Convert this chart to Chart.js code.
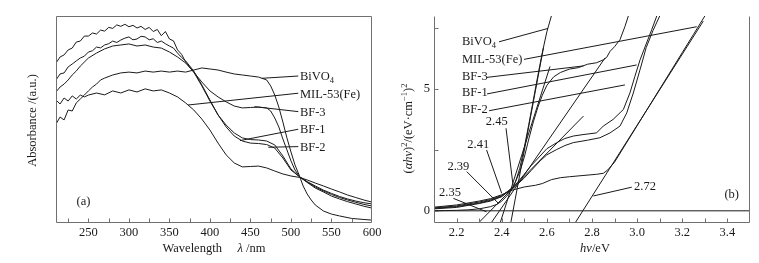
<!DOCTYPE html>
<html>
<head>
<meta charset="utf-8">
<script src="https://cdn.jsdelivr.net/npm/chart.js@4.4.1/dist/chart.umd.min.js"></script>
<style>
  html, body { margin: 0; padding: 0; background: #fff; }
  #wrap { position: relative; width: 759px; height: 263px; overflow: hidden; }
  canvas { position: absolute; top: 0; }
  #absChart { left: 0; }
  #taucChart { left: 380px; }
</style>
</head>
<body>
<div id="wrap">
  <canvas id="absChart" width="400" height="263"></canvas>
  <canvas id="taucChart" width="379" height="263"></canvas>
</div>
<script>
// ---- (a) UV-vis absorbance, wavelength in nm ----
const wlBiVO4 = [210,215,220,225,230,235,240,245,250,255,260,265,270,280,290,300,310,320,330,340,350,360,370,380,390,400,410,420,430,440,450,460,470,475,480,485,490,495,500,505,510,515,520,525,530,540,550,560,575,590,600];
const absBiVO4 = [0.478,0.512,0.498,0.546,0.541,0.580,0.599,0.618,0.638,0.657,0.671,0.691,0.700,0.715,0.725,0.729,0.725,0.734,0.729,0.734,0.729,0.734,0.729,0.739,0.749,0.744,0.739,0.729,0.720,0.715,0.710,0.705,0.691,0.662,0.618,0.560,0.488,0.411,0.343,0.280,0.232,0.179,0.140,0.111,0.087,0.058,0.043,0.034,0.022,0.017,0.014];

const wlMIL = [210,215,220,225,230,235,240,245,250,260,270,280,290,300,310,320,330,340,350,360,370,380,390,400,410,420,430,440,450,460,470,480,490,500,511,520,530,540,550,560,570,580,590,600];
const absMIL = [0.594,0.575,0.604,0.589,0.614,0.599,0.618,0.609,0.618,0.628,0.619,0.638,0.628,0.643,0.633,0.648,0.638,0.643,0.628,0.609,0.580,0.546,0.502,0.449,0.386,0.329,0.290,0.271,0.273,0.275,0.266,0.251,0.237,0.227,0.220,0.208,0.193,0.179,0.164,0.150,0.135,0.123,0.111,0.101];

const wlBF = [210,215,220,225,230,235,240,245,250,255,260,265,270,275,280,285,290,295,300,305,310,315,320,325,330,335,340,345,350,355,360,365,370,380,390,400,410,420,430,440,450,460,470,480,490,500,511,520,530,540,550,560,570,580,590,600];
const absBF1 = [0.773,0.802,0.812,0.836,0.845,0.874,0.879,0.903,0.903,0.918,0.913,0.932,0.927,0.945,0.940,0.957,0.950,0.960,0.948,0.955,0.942,0.950,0.935,0.945,0.925,0.935,0.905,0.925,0.889,0.880,0.836,0.815,0.778,0.729,0.662,0.589,0.522,0.473,0.435,0.411,0.403,0.401,0.396,0.377,0.324,0.261,0.222,0.198,0.174,0.155,0.138,0.123,0.111,0.100,0.090,0.082];
const absBF2 = [0.691,0.720,0.725,0.754,0.768,0.783,0.797,0.806,0.826,0.832,0.850,0.846,0.860,0.866,0.879,0.872,0.884,0.893,0.899,0.885,0.889,0.902,0.899,0.885,0.890,0.872,0.879,0.866,0.855,0.845,0.821,0.800,0.783,0.734,0.667,0.594,0.522,0.464,0.420,0.396,0.386,0.384,0.379,0.362,0.314,0.256,0.222,0.196,0.169,0.150,0.130,0.116,0.103,0.092,0.081,0.072];

const wlBF3 = [210,215,220,225,230,235,240,250,260,270,280,290,300,310,320,330,340,350,360,370,380,390,400,410,420,430,440,450,460,470,475,480,485,490,495,500,505,511,520,530,540,550,560,570,580,590,600];
const absBF3 = [0.633,0.657,0.671,0.691,0.715,0.734,0.758,0.797,0.821,0.841,0.855,0.860,0.865,0.855,0.860,0.850,0.845,0.826,0.802,0.773,0.729,0.681,0.638,0.609,0.585,0.565,0.556,0.558,0.560,0.556,0.541,0.507,0.464,0.406,0.353,0.300,0.256,0.222,0.200,0.179,0.159,0.143,0.128,0.116,0.106,0.098,0.092];

const wlTicks = [225,250,275,300,325,350,375,400,425,450,475,500,525,550,575];
const wlLabels = [250,300,350,400,450,500,550,600];

// label leader lines in (a): [wavelength, absorbance]
const leadA_BiVO4 = [[464,0.699],[509,0.710]];
const leadA_MIL = [[373,0.570],[509,0.627]];
const leadA_BF3 = [[455,0.562],[509,0.538]];
const leadA_BF1 = [[437,0.398],[509,0.453]];
const leadA_BF2 = [[472,0.366],[509,0.369]];

// ---- (b) Tauc plot, photon energy in eV ----
const evBiVO4 = [2.10,2.15,2.20,2.25,2.30,2.35,2.38,2.40,2.42,2.44,2.46,2.48,2.50,2.52,2.54,2.56,2.58,2.60,2.62];
const tauBiVO4 = [0.00,0.01,0.02,0.04,0.08,0.17,0.27,0.40,0.58,0.80,1.15,1.75,2.60,3.55,4.55,5.55,6.50,7.35,8.00];

const evMIL = [2.10,2.20,2.30,2.35,2.40,2.45,2.50,2.55,2.58,2.62,2.66,2.70,2.76,2.82,2.85,2.87,2.90,2.95,3.00,3.05,3.10,3.15,3.20,3.25,3.28,3.30];
const tauMIL = [0.15,0.24,0.40,0.50,0.66,0.86,0.98,1.05,1.12,1.28,1.36,1.40,1.45,1.50,1.54,1.68,2.00,2.75,3.50,4.25,5.00,5.75,6.50,7.25,7.70,8.00];

const evBF3 = [2.10,2.20,2.30,2.35,2.40,2.45,2.48,2.50,2.52,2.54,2.56,2.58,2.60,2.63,2.66,2.70,2.74,2.78,2.82,2.85,2.865,2.88,2.90,2.924,2.946,2.961];
const tauBF3 = [0.08,0.14,0.30,0.40,0.58,0.98,1.60,2.20,2.95,3.65,4.25,4.75,5.15,5.50,5.68,5.82,5.88,6.02,6.08,6.20,6.30,6.55,6.74,7.03,7.57,8.00];

const evBF1 = [2.10,2.20,2.30,2.35,2.40,2.45,2.50,2.53,2.57,2.60,2.644,2.68,2.717,2.76,2.82,2.85,2.893,2.939,2.968,2.99,3.013,3.04,3.065,3.087];
const tauBF1 = [0.12,0.20,0.36,0.46,0.63,0.95,1.50,1.85,2.25,2.55,2.80,2.97,3.07,3.13,3.20,3.48,3.75,4.16,4.84,5.52,6.20,6.85,7.45,8.00];

const evBF2 = [2.10,2.20,2.30,2.35,2.40,2.45,2.50,2.53,2.57,2.60,2.644,2.68,2.717,2.78,2.835,2.88,2.924,2.954,2.983,3.013,3.04,3.07,3.10];
const tauBF2 = [0.10,0.17,0.32,0.43,0.60,0.92,1.35,1.65,2.05,2.30,2.52,2.68,2.80,2.90,3.00,3.20,3.48,4.02,4.84,5.80,6.70,7.40,8.00];

// tangent lines and their band-gap intercepts
const tanBiVO4 = [[2.44,-0.5],[2.585,6.7]];
const tanBF3 = [[2.393,-0.5],[2.614,5.93]];
const tanBF1 = [[2.353,-0.5],[2.858,6.28]];
const tanBF2 = [[2.297,-0.5],[2.762,3.89]];
const tanMIL = [[2.725,-0.5],[3.293,7.79]];
const zeroLine = [[2.1,0],[3.5,0]];

const leadB_BiVO4 = [[2.388,6.94],[2.605,7.49]];
const leadB_MIL = [[2.499,6.22],[3.264,7.56]];
const leadB_BF3 = [[2.335,5.48],[2.762,5.95]];
const leadB_BF1 = [[2.335,4.80],[2.998,5.99]];
const leadB_BF2 = [[2.344,4.11],[2.946,5.17]];
const lead245 = [[2.419,3.39],[2.451,0.99]];
const lead241 = [[2.333,2.50],[2.400,0.72]];
const lead239 = [[2.245,1.61],[2.385,0.31]];
const lead235 = [[2.186,0.51],[2.333,-0.04]];
const lead272 = [[2.976,0.97],[2.806,0.61]];

const evTicks = [2.2,2.3,2.4,2.5,2.6,2.7,2.8,2.9,3.0,3.1,3.2,3.3,3.4];
const evLabels = [2.2,2.4,2.6,2.8,3.0,3.2,3.4];
const tauTicks = [0,2.5,5,7.5];
const tauLabels = [0,5];

const FONT = '"Liberation Serif", "Times New Roman", serif';
const SIZE = 12.5;
const INK = '#1a1a1a';
const AXIS = '#707070';

Chart.defaults.font.family = FONT;
Chart.defaults.font.size = SIZE;
Chart.defaults.color = INK;

const xy = (xs, ys) => xs.map((x, i) => ({ x: x, y: ys[i] }));
const seg = pts => pts.map(p => ({ x: p[0], y: p[1] }));
const line = (data, w) => ({ data: data, borderColor: INK, borderWidth: w || 1, pointRadius: 0, fill: false, tension: 0 });

// draws a run of text pieces: '' plain, 'i' italic, 'sup', 'sub'
function drawRuns(ctx, runs, x, y, align) {
  const fontOf = k => (k === 'i' ? 'italic ' : '') + (k === 'sup' || k === 'sub' ? SIZE * 0.68 : SIZE) + 'px ' + FONT;
  let w = 0;
  runs.forEach(r => { ctx.font = fontOf(r[1]); w += ctx.measureText(r[0]).width; });
  let cx = align === 'center' ? x - w / 2 : align === 'right' ? x - w : x;
  ctx.textBaseline = 'middle';
  ctx.textAlign = 'left';
  runs.forEach(r => {
    ctx.font = fontOf(r[1]);
    const dy = r[1] === 'sup' ? -SIZE * 0.35 : r[1] === 'sub' ? SIZE * 0.3 : 0;
    ctx.fillText(r[0], cx, y + dy);
    cx += ctx.measureText(r[0]).width;
  });
}

function frame(cfg) {
  return {
    id: 'frame',
    afterDraw(chart) {
      const { ctx, chartArea: a, scales } = chart;
      const L = Math.round(a.left) + 0.5, R = Math.round(a.right) - 0.5;
      const T = Math.round(a.top) + 0.5, B = Math.round(a.bottom) - 0.5;
      ctx.save();
      ctx.strokeStyle = AXIS;
      ctx.lineWidth = 1;
      ctx.beginPath();
      if (cfg.top) { ctx.moveTo(L, T); ctx.lineTo(R, T); }
      ctx.moveTo(L, T); ctx.lineTo(L, B); ctx.lineTo(R, B); ctx.lineTo(R, T);
      cfg.xTicks.forEach(v => {
        const p = Math.round(scales.x.getPixelForValue(v)) + 0.5;
        ctx.moveTo(p, B); ctx.lineTo(p, B - 4);
      });
      cfg.yTicks.forEach(v => {
        const p = Math.round(scales.y.getPixelForValue(v)) + 0.5;
        ctx.moveTo(L, p); ctx.lineTo(L + 4, p);
      });
      ctx.stroke();
      ctx.restore();
    }
  };
}

function notes(items, titles) {
  return {
    id: 'notes',
    afterDraw(chart) {
      const { ctx, chartArea: a, scales } = chart;
      ctx.save();
      ctx.fillStyle = INK;
      items.forEach(n => drawRuns(ctx, n.runs, scales.x.getPixelForValue(n.x), scales.y.getPixelForValue(n.y), n.align));
      titles.forEach(t => {
        if (t.axis === 'x') {
          drawRuns(ctx, t.runs, (a.left + a.right) / 2 + (t.dx || 0), a.bottom + t.dy, 'center');
        } else {
          ctx.save();
          ctx.translate(a.left + t.dx, (a.top + a.bottom) / 2 + (t.dy || 0));
          ctx.rotate(-Math.PI / 2);
          drawRuns(ctx, t.runs, 0, 0, 'center');
          ctx.restore();
        }
      });
      ctx.restore();
    }
  };
}

function baseOptions(o) {
  return {
    responsive: false,
    animation: false,
    layout: { padding: { left: 0, right: o.right, top: 16, bottom: 0 } },
    plugins: { legend: { display: false }, tooltip: { enabled: false } },
    scales: {
      x: {
        type: 'linear', min: o.xmin, max: o.xmax,
        afterFit: s => { s.height = 40; },
        afterBuildTicks: s => { s.ticks = o.xLabels.map(v => ({ value: v })); },
        grid: { display: false, drawTicks: false, tickLength: 0 }, border: { display: false },
        ticks: { padding: 2, autoSkip: false, maxRotation: 0, callback: o.xFmt }
      },
      y: {
        type: 'linear', min: o.ymin, max: o.ymax,
        afterFit: s => { s.width = o.yWidth; },
        afterBuildTicks: s => { s.ticks = o.yLabels.map(v => ({ value: v })); },
        grid: { display: false, drawTicks: false, tickLength: 0 }, border: { display: false },
        ticks: { display: o.yLabels.length > 0, padding: 4, autoSkip: false }
      }
    }
  };
}

new Chart(document.getElementById('absChart'), {
  type: 'line',
  data: {
    datasets: [
      line(xy(wlBiVO4, absBiVO4)),
      line(xy(wlMIL, absMIL)),
      line(xy(wlBF, absBF1)),
      line(xy(wlBF, absBF2)),
      line(xy(wlBF3, absBF3)),
      line(seg(leadA_BiVO4)), line(seg(leadA_MIL)), line(seg(leadA_BF3)),
      line(seg(leadA_BF1)), line(seg(leadA_BF2))
    ]
  },
  options: baseOptions({ right: 28, xmin: 210, xmax: 600, ymin: 0, ymax: 1, yWidth: 56,
    xLabels: wlLabels, yLabels: [], xFmt: v => String(v) }),
  plugins: [
    frame({ top: true, xTicks: wlTicks, yTicks: [] }),
    notes([
      { runs: [['BiVO', ''], ['4', 'sub']], x: 511, y: 0.707, align: 'left' },
      { runs: [['MIL-53(Fe)', '']], x: 511, y: 0.618, align: 'left' },
      { runs: [['BF-3', '']], x: 511, y: 0.533, align: 'left' },
      { runs: [['BF-1', '']], x: 511, y: 0.449, align: 'left' },
      { runs: [['BF-2', '']], x: 511, y: 0.366, align: 'left' },
      { runs: [['(a)', '']], x: 244, y: 0.103, align: 'center' }
    ], [
      { axis: 'x', runs: [['Wavelength     ', ''], ['λ', 'i'], [' /nm', '']], dy: 26 },
      { axis: 'y', runs: [['Absorbance /(a.u.)', '']], dx: -23, dy: 1 }
    ])
  ]
});

new Chart(document.getElementById('taucChart'), {
  type: 'line',
  data: {
    datasets: [
      line(seg(zeroLine)),
      line(xy(evBiVO4, tauBiVO4)),
      line(xy(evMIL, tauMIL)),
      line(xy(evBF3, tauBF3)),
      line(xy(evBF1, tauBF1)),
      line(xy(evBF2, tauBF2)),
      line(seg(tanBiVO4)), line(seg(tanBF3)), line(seg(tanBF1)), line(seg(tanBF2)), line(seg(tanMIL)),
      line(seg(leadB_BiVO4)), line(seg(leadB_MIL)), line(seg(leadB_BF3)), line(seg(leadB_BF1)), line(seg(leadB_BF2)),
      line(seg(lead245)), line(seg(lead241)), line(seg(lead239)), line(seg(lead235)), line(seg(lead272))
    ]
  },
  options: baseOptions({ right: 9, xmin: 2.1, xmax: 3.5, ymin: -0.5, ymax: 8, yWidth: 54,
    xLabels: evLabels, yLabels: tauLabels, xFmt: v => v.toFixed(1) }),
  plugins: [
    frame({ top: false, xTicks: evTicks, yTicks: tauTicks }),
    notes([
      { runs: [['BiVO', ''], ['4', 'sub']], x: 2.224, y: 6.94, align: 'left' },
      { runs: [['MIL-53(Fe)', '']], x: 2.224, y: 6.19, align: 'left' },
      { runs: [['BF-3', '']], x: 2.224, y: 5.51, align: 'left' },
      { runs: [['BF-1', '']], x: 2.224, y: 4.83, align: 'left' },
      { runs: [['BF-2', '']], x: 2.224, y: 4.14, align: 'left' },
      { runs: [['2.45', '']], x: 2.378, y: 3.66, align: 'center' },
      { runs: [['2.41', '']], x: 2.296, y: 2.70, align: 'center' },
      { runs: [['2.39', '']], x: 2.208, y: 1.81, align: 'center' },
      { runs: [['2.35', '']], x: 2.171, y: 0.74, align: 'center' },
      { runs: [['2.72', '']], x: 3.035, y: 0.99, align: 'center' },
      { runs: [['(b)', '']], x: 3.419, y: 0.65, align: 'center' }
    ], [
      { axis: 'x', runs: [['hν', 'i'], ['/eV', '']], dy: 26, dx: 3 },
      { axis: 'y', runs: [['(', ''], ['αhν', 'i'], [')', ''], ['2', 'sup'], ['/(eV·cm', ''], ['−1', 'sup'], [')', ''], ['2', 'sup']], dx: -25, dy: 9 }
    ])
  ]
});
</script>
</body>
</html>
